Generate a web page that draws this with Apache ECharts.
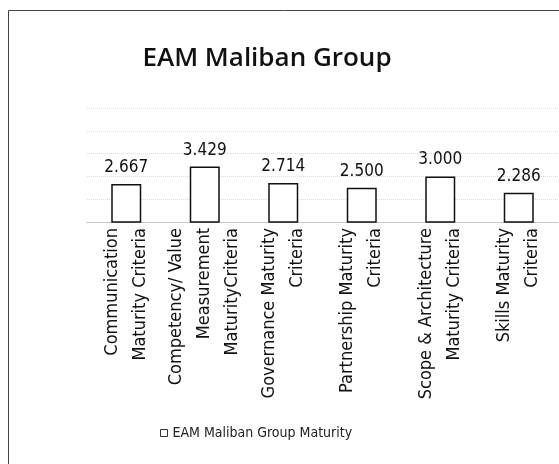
<!DOCTYPE html>
<html>
<head>
<meta charset="utf-8">
<script src="https://cdn.jsdelivr.net/npm/echarts@6/dist/echarts.min.js"></script>
<style>
html,body{margin:0;padding:0;background:#fff;}
#chart{width:559px;height:464px;}
</style>
</head>
<body>
<div id="chart"></div>
<script>
var categories = [
  "Communication\nMaturity Criteria",
  "Competency/ Value\nMeasurement\nMaturityCriteria",
  "Governance Maturity\nCriteria",
  "Partnership Maturity\nCriteria",
  "Scope & Architecture\nMaturity Criteria",
  "Skills Maturity\nCriteria"
];
var seriesName = "EAM Maliban Group Maturity";
var values = [2.667, 3.429, 2.714, 2.500, 3.000, 2.286];
var titleText = "EAM Maliban Group";

var narrow = "'DejaVu Sans Condensed', 'Liberation Sans Narrow', sans-serif";
var chart = echarts.init(document.getElementById('chart'), null, {renderer: 'canvas'});
chart.setOption({
  backgroundColor: '#ffffff',
  animation: false,
  title: {
    text: titleText,
    left: 262, top: 41, textAlign: 'center',
    textStyle: {fontFamily: "'Open Sans', sans-serif", fontWeight: 600, fontSize: 26, color: '#111'}
  },
  graphic: [{
    type: 'rect', silent: true, z: 100,
    shape: {x: 8.5, y: 10.5, width: 600, height: 500},
    style: {fill: 'none', stroke: '#444', lineWidth: 1}
  }],
  legend: {
    data: [seriesName],
    left: 155, top: 421,
    icon: 'rect', itemWidth: 7, itemHeight: 7, itemGap: 8,
    textStyle: {fontFamily: narrow, fontSize: 14, color: '#222'},
    itemStyle: {color: '#fff', borderColor: '#333', borderWidth: 1}
  },
  grid: {left: 87, right: 1, top: 108, bottom: 242, containLabel: false},
  xAxis: {
    type: 'category',
    data: categories,
    axisLine: {show: true, lineStyle: {color: '#bbb', width: 1, type: 'dotted'}},
    axisTick: {show: false},
    axisLabel: {
      interval: 0, rotate: 90, margin: 6,
      fontFamily: narrow, fontSize: 18, lineHeight: 28, color: '#111'
    }
  },
  yAxis: {
    type: 'value', min: 1, max: 6, interval: 1,
    axisLine: {show: false}, axisTick: {show: false}, axisLabel: {show: false},
    splitLine: {show: true, lineStyle: {color: '#dcdcdc', type: 'dotted', width: 1}}
  },
  series: [{
    name: seriesName,
    type: 'bar',
    data: values,
    barWidth: 30,
    itemStyle: {color: '#ffffff', borderColor: '#111', borderWidth: 1.5},
    label: {
      show: true, position: 'top', distance: 8,
      formatter: function (p) { return p.value.toFixed(3); },
      fontFamily: narrow, fontSize: 17, color: '#111'
    }
  }]
});
</script>
</body>
</html>
